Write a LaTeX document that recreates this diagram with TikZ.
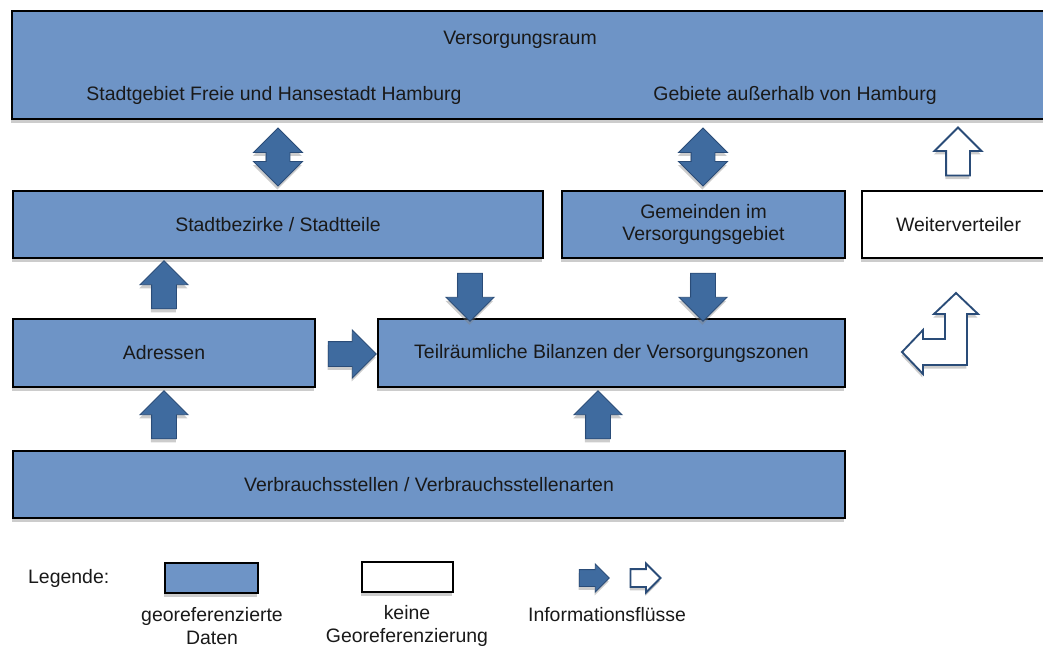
\documentclass[tikz,border=0pt]{standalone}
\usepackage{fontspec}
\setmainfont{Liberation Sans}
\usepackage{tikz}
\usetikzlibrary{positioning,shapes.arrows,shadows}

\definecolor{boxblue}{RGB}{110,148,198}
\definecolor{arrowblue}{RGB}{63,107,159}
\definecolor{arrowline}{RGB}{42,76,120}
\definecolor{textgrey}{RGB}{25,25,25}

\tikzset{
  boxsize/.style 2 args={minimum width=#1*0.03cm, minimum height=#2*0.03cm},
  softshadow/.style={drop shadow={shadow xshift=-0.5pt, shadow yshift=-3pt, opacity=0.4}},
  geobox/.style={draw=black, line width=1.6pt, fill=boxblue, inner sep=0pt,
    align=center, softshadow},
  plainbox/.style={geobox, fill=white},
  flow/.style={single arrow, draw=arrowline, fill=arrowblue, line width=0.8pt,
    inner sep=0.36cm, single arrow head extend=0.345cm,
    minimum height=1.44cm, outer sep=0pt, softshadow},
  dflow/.style={double arrow, draw=arrowline, fill=arrowblue, line width=0.8pt,
    inner sep=0.345cm, double arrow head extend=0.375cm,
    minimum height=1.74cm, outer sep=0pt, softshadow, shape border rotate=90},
  hollow/.style={fill=white, line width=1.6pt},
  smallflow/.style={flow, minimum height=0.9cm, inner sep=0.24cm,
    single arrow head extend=0.165cm},
}

\begin{document}
\begin{tikzpicture}[x=0.03cm, y=-0.03cm, font=\fontsize{16.6}{19.5}\selectfont,
  every node/.append style={text=textgrey}]
  \useasboundingbox (0,0) rectangle (1043,648);

  % Versorgungsraum
  \node[geobox, boxsize={1043}{108}] (raum) at (533.5,65) {};
  \node (raumtitel) at (520,40) {Versorgungsraum};
  \node (stadtgebiet) at (274,95) {Stadtgebiet Freie und Hansestadt Hamburg};
  \node (aussen) at (795,95) {Gebiete außerhalb von Hamburg};

  % mittlere Ebene
  \node[geobox, boxsize={530}{67}] (bezirke) at (278,224.5) {Stadtbezirke / Stadtteile};
  \node[geobox, boxsize={283}{67}] (gemeinden) at (703.5,224.5) {Gemeinden im\\Versorgungsgebiet};
  \node[plainbox, boxsize={193}{67}] (weiter) at (958.5,224.5) {Weiterverteiler};

  \node[geobox, boxsize={302}{68}] (adressen) at (164,353) {Adressen};
  \node[geobox, boxsize={467}{68}] (bilanzen) at (611.5,353) {Teilräumliche Bilanzen der Versorgungszonen};

  \node[geobox, boxsize={832}{67}] (verbrauch) at (429,484.5) {Verbrauchsstellen / Verbrauchsstellenarten};

  % Informationsfluesse
  \node[dflow] (doppelA) at (278,157) {};
  \node[dflow] (doppelB) at (703,157) {};
  \node[flow, hollow, shape border rotate=90, inner sep=0.33cm] (leerA) at (958,157.5) {};

  \node[flow, shape border rotate=90] (pfeilA) at (164,291) {};
  \node[flow, shape border rotate=270] (pfeilB) at (470,291) {};
  \node[flow, shape border rotate=270] (pfeilC) at (703,291) {};
  \node[flow] (pfeilD) at (346,354) {};
  \node[flow, shape border rotate=90] (pfeilE) at (164,421) {};
  \node[flow, shape border rotate=90] (pfeilF) at (598,421) {};

  % Winkelpfeil
  \draw[draw=arrowline, hollow, softshadow, line join=miter]
    (956,293) -- (978,314) -- (967,314) -- (967,365) -- (923,365) -- (923,374)
    -- (902,352) -- (923,330) -- (923,339) -- (945,339) -- (945,314)
    -- (934,314) -- cycle;

  % Legende
  \node[anchor=west] (legende) at (24,578) {Legende:};
  \node[geobox, boxsize={93}{30}] (legblau) at (211.5,578) {};
  \node[plainbox, boxsize={91}{30}] (legweiss) at (407.5,577) {};
  \node[smallflow] (legpfeil) at (590,578) {};
  \node[smallflow, hollow] (legleer) at (641,578) {};
  \node[align=center] (legtextA) at (212,626) {georeferenzierte\\Daten};
  \node[align=center] (legtextB) at (407,626) {keine\\Georeferenzierung};
  \node (legtextC) at (607,615) {Informationsflüsse};
\end{tikzpicture}
\end{document}
